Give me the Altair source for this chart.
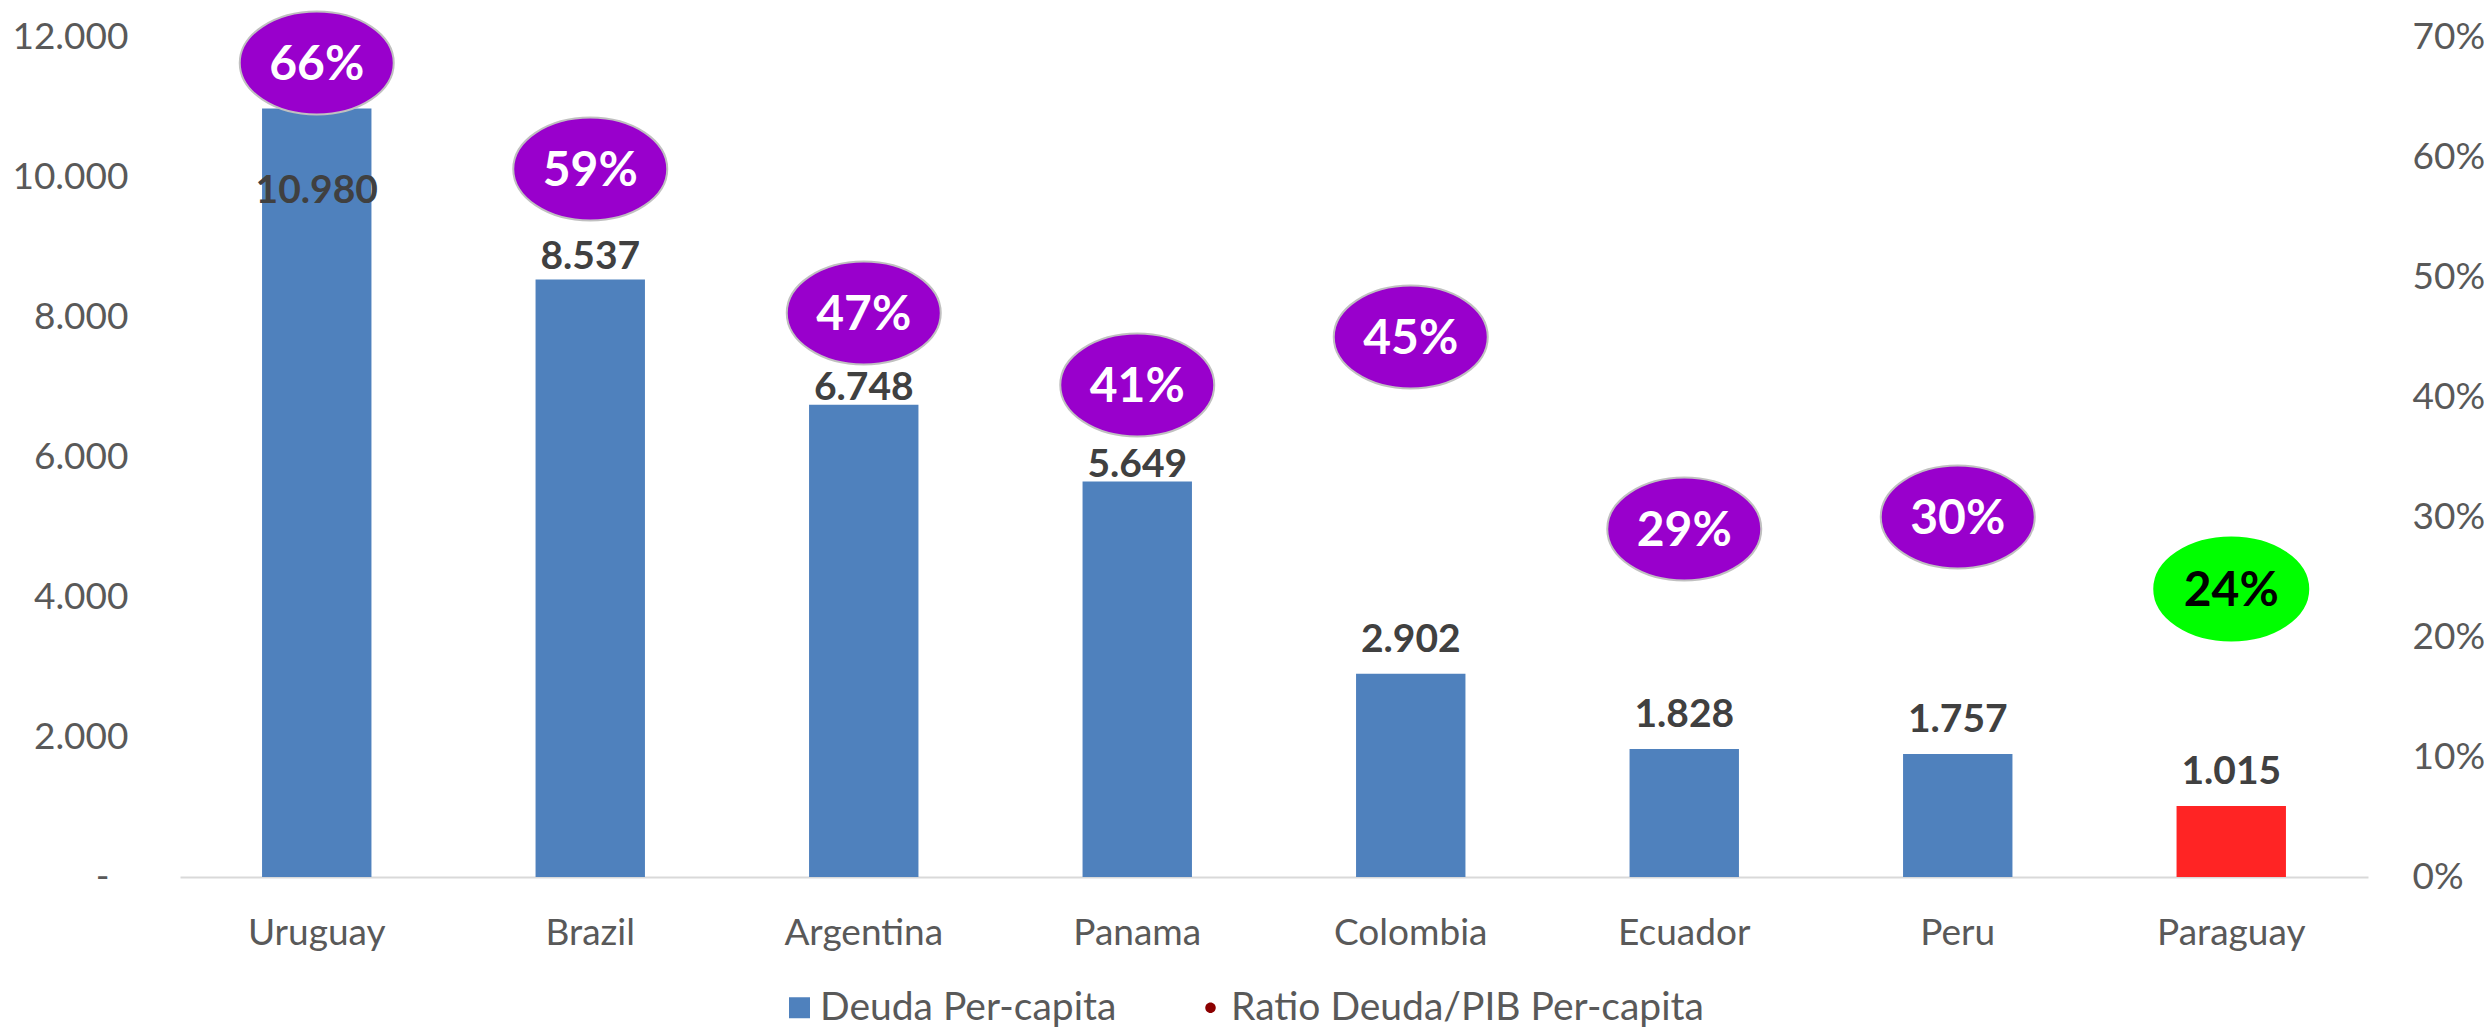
import altair as alt
import pandas as pd

# ---------------- data ----------------
paises = ["Uruguay", "Brazil", "Argentina", "Panama", "Colombia", "Ecuador", "Peru", "Paraguay"]
deuda = [10980, 8537, 6748, 5649, 2902, 1828, 1757, 1015]
ratio = [0.66, 0.59, 0.47, 0.41, 0.45, 0.29, 0.30, 0.24]
series = ["Deuda Per-capita", "Ratio Deuda/PIB Per-capita"]
y_ticks = [0, 2000, 4000, 6000, 8000, 10000, 12000]
pct_ticks = [0, 0.1, 0.2, 0.3, 0.4, 0.5, 0.6, 0.7]

df = pd.DataFrame({"pais": paises, "deuda": deuda, "ratio": ratio})
leg = pd.DataFrame({"serie": series})

# ---------------- style ----------------
FONT = "Lato"
BLUE = "#4F81BD"
RED = "#FF2424"
PURPLE = "#9900CC"
GREEN = "#00FF00"
DARKRED = "#8B0000"
AXIS_GRAY = "#595959"
LABEL_GRAY = "#404040"
ELLIPSE = "M -1 0 A 1 0.669 0 1 1 1 0 A 1 0.669 0 1 1 -1 0 Z"
DOT = "M -0.5 0 A 0.5 0.5 0 1 1 0.5 0 A 0.5 0.5 0 1 1 -0.5 0 Z"

W, H = 2188, 840

x = alt.X(
    "pais:N", sort=paises,
    scale=alt.Scale(paddingInner=0.6, paddingOuter=0.3),
    axis=alt.Axis(title=None, labelAngle=0, labelFont=FONT, labelFontSize=37,
                  labelColor=AXIS_GRAY, labelPadding=38, ticks=False,
                  domainColor="#D9D9D9", domainWidth=2),
)

yL = alt.Y(
    "deuda:Q",
    scale=alt.Scale(domain=[0, 12000], nice=False),
    axis=alt.Axis(orient="left", title=None, values=y_ticks, grid=False, domain=False,
                  ticks=False, labelFont=FONT, labelFontSize=37, labelColor=AXIS_GRAY,
                  labelPadding={"condition": {"test": "datum.value === 0", "value": 71}, "value": 52},
                  labelExpr="datum.value == 0 ? '-' : replace(format(datum.value, ','), ',', '.')"),
)

yR = alt.Y(
    "ratio:Q",
    scale=alt.Scale(domain=[0, 0.7], nice=False),
    axis=alt.Axis(orient="right", title=None, values=pct_ticks, format=".0%", grid=False,
                  domain=False, ticks=False, labelFont=FONT, labelFontSize=37,
                  labelColor=AXIS_GRAY, labelPadding=44, labelAlign="left"),
)

base = alt.Chart(df)
is_py = alt.datum.pais == "Paraguay"

bars = base.mark_bar().encode(
    x=x, y=yL,
    color=alt.when(is_py).then(alt.value(RED)).otherwise(alt.value(BLUE)),
)


def bar_labels(pred, dy):
    return (
        base.transform_filter(pred)
        .transform_calculate(lbl="replace(format(datum.deuda, ','), ',', '.')")
        .mark_text(font=FONT, fontSize=39, fontWeight="bold", color=LABEL_GRAY,
                   baseline="alphabetic", dy=dy)
        .encode(x=x, y=yL, text="lbl:N")
    )


lab_std = bar_labels("indexof(['Colombia','Ecuador','Peru','Paraguay'], datum.pais) >= 0", -22)
lab_br = bar_labels("datum.pais == 'Brazil'", -10)
lab_ap = bar_labels("datum.pais == 'Argentina' || datum.pais == 'Panama'", -5)
lab_uy = bar_labels("datum.pais == 'Uruguay'", 95)

legend_props = dict(title=None, orient="none", legendX=600, legendY=951,
                    direction="horizontal", padding=0, labelOffset=1, labelLimit=0,
                    columnPadding=74, symbolSize=441, symbolStrokeWidth=0,
                    labelFont=FONT, labelFontSize=39, labelColor=AXIS_GRAY)

legend_layer = alt.Chart(leg).mark_point(filled=True, clip=True, opacity=1).encode(
    x=alt.value(-300), y=alt.value(-300),
    color=alt.Color("serie:N", sort=series,
                    scale=alt.Scale(domain=series, range=[BLUE, DARKRED]),
                    legend=alt.Legend(**legend_props)),
    shape=alt.Shape("serie:N", sort=series,
                    scale=alt.Scale(domain=series, range=["square", DOT]),
                    legend=alt.Legend(**legend_props)),
)


def ellipses(pred, yoff):
    sub = base.transform_filter(pred).transform_calculate(pct="format(datum.ratio, '.0%')")
    shp = sub.mark_point(shape=ELLIPSE, size=23716, filled=True, opacity=1,
                         strokeWidth=2, yOffset=yoff).encode(
        x=x, y=yR,
        fill=alt.when(is_py).then(alt.value(GREEN)).otherwise(alt.value(PURPLE)),
        stroke=alt.when(is_py).then(alt.value(GREEN)).otherwise(alt.value("#C0C0C0")),
    )
    txt = sub.mark_text(font=FONT, fontSize=48, fontWeight="bold", baseline="alphabetic",
                        dy=17 + yoff).encode(
        x=x, y=yR, text="pct:N",
        color=alt.when(is_py).then(alt.value("#000000")).otherwise(alt.value("#FFFFFF")),
    )
    return shp + txt


left_group = alt.layer(bars, lab_std, lab_br, lab_ap, lab_uy, legend_layer)
right_group = alt.layer(ellipses("datum.pais != 'Uruguay'", 0),
                        ellipses("datum.pais == 'Uruguay'", -22))

chart = (
    alt.layer(left_group, right_group)
    .resolve_scale(y="independent")
    .properties(
        width=W, height=H,
        autosize=alt.AutoSizeParams(type="none"),
        padding={"left": 172, "top": 29, "right": 116, "bottom": 151},
        background="white",
    )
    .configure_view(stroke=None)
)

chart.save("out.html", embed_options={"renderer": "svg", "actions": False})
